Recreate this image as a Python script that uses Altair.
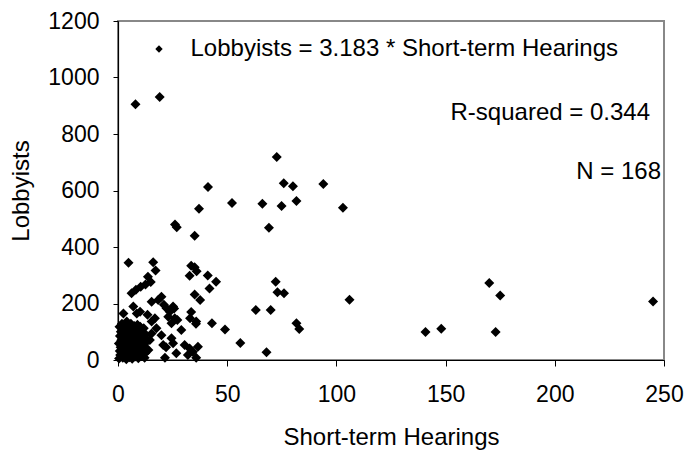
import altair as alt
import pandas as pd

# Short-term hearings (x) and lobbyists (y)
hearings = [
    8.0, 19.1, 72.7, 41.2, 75.9, 80.1, 94.0, 52.2, 66.1, 81.7, 74.9, 103.0, 37.1,
    69.1, 26.1, 26.9, 35.1, 4.8, 16.1, 17.2, 13.7, 15.0, 12.6, 10.4, 8.2, 6.2,
    33.5, 35.1, 32.8, 36.0, 41.1, 44.9, 41.9, 35.1, 37.6, 72.2, 73.0, 76.0,
    63.1, 69.9, 170.0, 175.0, 245.0, 106.0, 81.7, 83.0, 43.0, 49.0, 56.0, 68.0,
    140.8, 148.0, 172.9, 19.9, 18.4, 15.4, 22.2, 23.7, 25.2, 23.0, 26.0, 24.5,
    29.0, 33.5, 35.8, 33.0, 16.9, 17.6, 15.4, 20.7, 24.5, 25.2, 21.5, 26.7,
    30.5, 32.8, 34.3, 36.6, 35.8, 32.0, 14.6, 13.9, 15.4, 7.0, 10.1, 2.5, 4.0,
    13.5, 19.9, 22.0, 8.6, 25.7, 27.2, 21.0, 35.7,
    0.5, 1.0, 0.8, 1.2, 0.4, 1.5, 0.9, 1.3, 0.7, 1.8,
    2.2, 2.5, 2.8, 2.1, 2.6, 3.0, 2.4, 2.9, 3.3,
    3.8, 4.2, 3.6, 4.5, 4.0, 3.9, 4.4, 4.1, 4.7,
    5.2, 5.6, 5.0, 5.8, 5.3, 5.5, 6.0, 5.9,
    6.5, 6.8, 6.3, 7.0, 6.6, 7.2, 6.9, 7.4,
    7.8, 8.2, 7.9, 8.5, 8.1, 8.7, 8.3, 8.9,
    9.3, 9.6, 9.1, 9.8, 9.4, 10.0, 9.7, 10.2,
    10.6, 11.0, 10.8, 11.3, 11.1, 11.5, 11.8,
    12.2, 12.5, 12.8, 12.3, 13.0, 12.7,
]
lobbyists = [
    905, 931, 719, 612, 626, 615, 623, 556, 553, 563, 545, 539, 535,
    468, 480, 470, 440, 344, 346, 317, 295, 276, 267, 259, 249, 236,
    334, 328, 298, 314, 299, 277, 253, 232, 212, 277, 240, 236,
    177, 177, 273, 228, 207, 213, 130, 110, 130, 108, 60, 27,
    99, 111, 99, 224, 212, 206, 183, 171, 189, 153, 148, 130,
    106, 170, 136, 148, 148, 112, 136, 53, 77, 59, 8, 24,
    53, 41, 29, 47, 8, 18, 71, 35, 94, 189, 171, 165, 136,
    160, 88, 45, 165, 182, 142, 196, 128,
    5, 18, 32, 45, 58, 70, 85, 100, 118, 128,
    8, 22, 38, 52, 66, 80, 94, 110, 122,
    3, 15, 28, 42, 55, 72, 88, 104, 116,
    10, 25, 48, 62, 78, 95, 110, 128,
    4, 19, 35, 52, 68, 84, 98, 120,
    12, 30, 45, 60, 76, 92, 108, 125,
    6, 22, 40, 55, 70, 86, 102, 118,
    15, 32, 48, 64, 80, 96, 112,
    8, 25, 42, 58, 74, 90,
]
x_ticks = [0, 50, 100, 150, 200, 250]
y_ticks = [0, 200, 400, 600, 800, 1000, 1200]

equation = "Lobbyists = 3.183 * Short-term Hearings"
r2_text = "R-squared = 0.344"
n_text = "N = 168"

FONT = "Liberation Sans"
df = pd.DataFrame({"hearings": hearings, "lobbyists": lobbyists})

points = alt.Chart(df).mark_point(
    shape="diamond", filled=True, size=100, color="black", opacity=1
).encode(
    x=alt.X("hearings:Q", scale=alt.Scale(domain=[0, 250], nice=False),
            axis=alt.Axis(values=x_ticks, format="d", title="Short-term Hearings",
                          labelFlush=False, tickSize=6, labelPadding=17,
                          titlePadding=19)),
    y=alt.Y("lobbyists:Q", scale=alt.Scale(domain=[0, 1200], nice=False),
            axis=alt.Axis(values=y_ticks, format="d", title="Lobbyists",
                          labelFlush=False, tickSize=5, labelPadding=14,
                          titlePadding=14)),
)

ann = pd.DataFrame({"t": [equation]})
legend_marker = alt.Chart(ann).mark_point(
    shape="diamond", filled=True, size=55, color="black", opacity=1
).encode(x=alt.value(41), y=alt.value(28))

eq_text = alt.Chart(ann).mark_text(
    align="left", baseline="middle", fontSize=24, font=FONT, color="black"
).encode(x=alt.value(72.5), y=alt.value(28), text=alt.value(equation))

r2 = alt.Chart(ann).mark_text(
    align="right", baseline="middle", fontSize=24, font=FONT, color="black"
).encode(x=alt.value(532), y=alt.value(92), text=alt.value(r2_text))

n = alt.Chart(ann).mark_text(
    align="right", baseline="middle", fontSize=24, font=FONT, color="black"
).encode(x=alt.value(543), y=alt.value(151), text=alt.value(n_text))

chart = alt.layer(points, legend_marker, eq_text, r2, n).properties(
    width=546, height=339,
    background="white",
    autosize=alt.AutoSizeParams(type="none"),
    padding={"left": 110, "top": 13, "right": 21, "bottom": 100},
).configure_view(
    stroke="#888888", strokeWidth=2
).configure_axis(
    grid=False, domainColor="black", domainWidth=1.2, tickColor="black",
    tickWidth=1, labelFont=FONT, labelFontSize=23, labelColor="black",
    titleFont=FONT, titleFontSize=24, titleFontWeight="normal", titleColor="black",
)

chart.save("out.html", embed_options={"renderer": "svg", "actions": False})
